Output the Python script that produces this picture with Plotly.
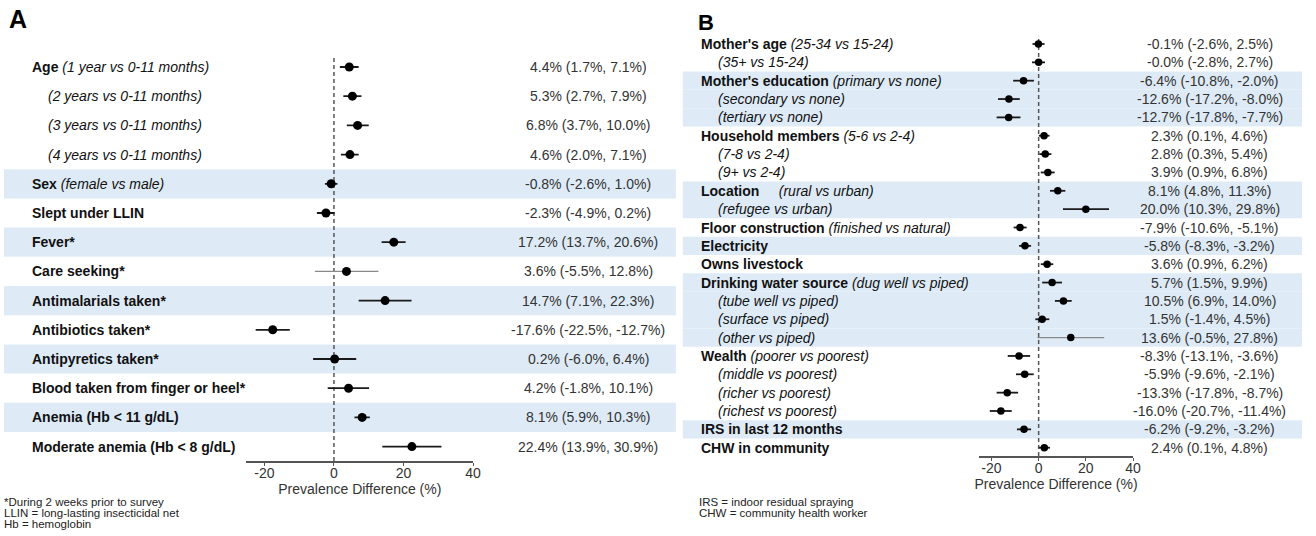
import plotly.graph_objects as go

W, H = 1316, 536

# ---- Panel A: child-level factors ----
a_main = ["Age", "", "", "", "Sex", "Slept under LLIN", "Fever*", "Care seeking*",
          "Antimalarials taken*", "Antibiotics taken*", "Antipyretics taken*",
          "Blood taken from finger or heel*", "Anemia (Hb < 11 g/dL)",
          "Moderate anemia (Hb < 8 g/dL)"]
a_contrast = ["(1 year vs 0-11 months)", "(2 years vs 0-11 months)",
              "(3 years vs 0-11 months)", "(4 years vs 0-11 months)",
              "(female vs male)", "", "", "", "", "", "", "", "", ""]
a_est = [4.4, 5.3, 6.8, 4.6, -0.8, -2.3, 17.2, 3.6, 14.7, -17.6, 0.2, 4.2, 8.1, 22.4]
a_lo = [1.7, 2.7, 3.7, 2.0, -2.6, -4.9, 13.7, -5.5, 7.1, -22.5, -6.0, -1.8, 5.9, 13.9]
a_hi = [7.1, 7.9, 10.0, 7.1, 1.0, 0.2, 20.6, 12.8, 22.3, -12.7, 6.4, 10.1, 10.3, 30.9]
a_notes = ["*During 2 weeks prior to survey",
           "LLIN = long-lasting insecticidal net",
           "Hb = hemoglobin"]

# ---- Panel B: household-level factors ----
b_main = ["Mother's age", "", "Mother's education", "", "", "Household members", "", "",
          "Location", "", "Floor construction", "Electricity", "Owns livestock",
          "Drinking water source", "", "", "", "Wealth", "", "", "",
          "IRS in last 12 months", "CHW in community"]
b_contrast = ["(25-34 vs 15-24)", "(35+ vs 15-24)", "(primary vs none)",
              "(secondary vs none)", "(tertiary vs none)", "(5-6 vs 2-4)",
              "(7-8 vs 2-4)", "(9+ vs 2-4)", "(rural vs urban)", "(refugee vs urban)",
              "(finished vs natural)", "", "", "(dug well vs piped)",
              "(tube well vs piped)", "(surface vs piped)", "(other vs piped)",
              "(poorer vs poorest)", "(middle vs poorest)", "(richer vs poorest)",
              "(richest vs poorest)", "", ""]
b_est = [-0.1, -0.0, -6.4, -12.6, -12.7, 2.3, 2.8, 3.9, 8.1, 20.0, -7.9, -5.8, 3.6,
         5.7, 10.5, 1.5, 13.6, -8.3, -5.9, -13.3, -16.0, -6.2, 2.4]
b_lo = [-2.6, -2.8, -10.8, -17.2, -17.8, 0.1, 0.3, 0.9, 4.8, 10.3, -10.6, -8.3, 0.9,
        1.5, 6.9, -1.4, -0.5, -13.1, -9.6, -17.8, -20.7, -9.2, 0.1]
b_hi = [2.5, 2.7, -2.0, -8.0, -7.7, 4.6, 5.4, 6.8, 11.3, 29.8, -5.1, -3.2, 6.2,
        9.9, 14.0, 4.5, 27.8, -3.6, -2.1, -8.7, -11.4, -3.2, 4.8]
b_notes = ["IRS = indoor residual spraying", "CHW = community health worker"]

x_ticks = [-20, 0, 20, 40]
x_tick_text = ["-20", "0", "20", "40"]
x_title = "Prevalence Difference (%)"

FONT = "Liberation Sans, Arial, sans-serif"
SHADE = "#deebf7"


def px_x(p):
    return p / W


def px_y(p):
    return 1 - p / H


fig = go.Figure()
shapes = []
annotations = []


def add_panel(main, contrast, est, lo, hi, xref, yref, marker_size, label_x, sub_x,
              value_x, shade_x0, shade_x1, wide_rows):
    rows = list(range(len(est)))
    # shaded bands alternate by variable group
    group = -1
    for i in rows:
        if main[i]:
            group += 1
        if group % 2 == 1:
            shapes.append(dict(type="rect", xref="paper", yref=yref,
                               x0=px_x(shade_x0), x1=px_x(shade_x1),
                               y0=i - 0.5, y1=i + 0.5, fillcolor=SHADE,
                               line=dict(width=0), layer="below"))
    # reference line at zero
    shapes.append(dict(type="line", xref=xref, yref=f"{yref} domain", x0=0, x1=0,
                       y0=0, y1=1,
                       line=dict(color="#555555", width=1.5, dash="4px,3px"),
                       layer="below"))
    for is_wide, color, thick in ((False, "#1a1a1a", 1.8), (True, "#8a8a8a", 1.3)):
        idx = [i for i in rows if (i in wide_rows) == is_wide]
        if not idx:
            continue
        fig.add_trace(go.Scatter(
            x=[est[i] for i in idx], y=idx, mode="markers",
            marker=dict(color="black", size=marker_size),
            error_x=dict(type="data", symmetric=False,
                         array=[hi[i] - est[i] for i in idx],
                         arrayminus=[est[i] - lo[i] for i in idx],
                         width=0, thickness=thick, color=color),
            xaxis=xref, yaxis=yref, showlegend=False, hoverinfo="skip"))
    for i in rows:
        if main[i]:
            txt = f"<b>{main[i]}</b>"
            if contrast[i]:
                gap = "\u00a0" * 5 if main[i] == "Location" else " "
                txt += gap + f"<i>{contrast[i]}</i>"
            x = label_x
        else:
            txt = f"<i>{contrast[i]}</i>"
            x = sub_x
        annotations.append(dict(text=txt, xref="paper", yref=yref, x=px_x(x), y=i,
                                xanchor="left", yanchor="middle", showarrow=False,
                                font=dict(family=FONT, size=14, color="#111111")))
        annotations.append(dict(text=f"{est[i]:.1f}% ({lo[i]:.1f}%, {hi[i]:.1f}%)",
                                xref="paper", yref=yref, x=px_x(value_x), y=i,
                                xanchor="center", yanchor="middle", showarrow=False,
                                font=dict(family=FONT, size=14, color="#333333")))


add_panel(a_main, a_contrast, a_est, a_lo, a_hi, "x", "y", 9,
          30, 46, 592, 4, 680, wide_rows={7})
add_panel(b_main, b_contrast, b_est, b_lo, b_hi, "x2", "y2", 7.5,
          703, 720, 1217, 687, 1310, wide_rows={16})

axis_common = dict(tickvals=x_ticks, ticktext=x_tick_text, ticks="outside", ticklen=3,
                   tickwidth=1, tickcolor="#555555", showline=True,
                   linecolor="#555555", linewidth=1.5, showgrid=False, zeroline=False,
                   ticklabelstandoff=-5,
                   tickfont=dict(family=FONT, size=14, color="#333333"),
                   title=dict(text=x_title, standoff=0,
                              font=dict(family=FONT, size=14, color="#333333")))

fig.update_layout(
    width=W, height=H, margin=dict(l=0, r=0, t=0, b=0),
    paper_bgcolor="white", plot_bgcolor="rgba(0,0,0,0)",
    xaxis=dict(domain=[px_x(248), px_x(476)], range=[-25.14, 40], anchor="y",
               **axis_common),
    yaxis=dict(domain=[px_y(461), px_y(57)], range=[13.493, -0.342], visible=False,
               anchor="x"),
    xaxis2=dict(domain=[px_x(985), px_x(1140)], range=[-25.26, 40], anchor="y2",
                **axis_common),
    yaxis2=dict(domain=[px_y(456), px_y(37)], range=[22.452, -0.381], visible=False,
                anchor="x2"),
    shapes=shapes,
)

# panel letters
annotations.append(dict(text="<b>A</b>", xref="paper", yref="paper", x=px_x(7),
                        y=px_y(3), xanchor="left", yanchor="top", showarrow=False,
                        font=dict(family=FONT, size=25, color="black")))
annotations.append(dict(text="<b>B</b>", xref="paper", yref="paper", x=px_x(700),
                        y=px_y(8), xanchor="left", yanchor="top", showarrow=False,
                        font=dict(family=FONT, size=22, color="black")))

# footnotes
for k, note in enumerate(a_notes):
    annotations.append(dict(text=note, xref="paper", yref="paper", x=px_x(2),
                            y=px_y(502 + 11 * k), xanchor="left", yanchor="middle",
                            showarrow=False,
                            font=dict(family=FONT, size=11.5, color="#222222")))
for k, note in enumerate(b_notes):
    annotations.append(dict(text=note, xref="paper", yref="paper", x=px_x(701),
                            y=px_y(502 + 11 * k), xanchor="left", yanchor="middle",
                            showarrow=False,
                            font=dict(family=FONT, size=11.5, color="#222222")))

fig.update_layout(annotations=annotations)
fig.write_html("out.html")
